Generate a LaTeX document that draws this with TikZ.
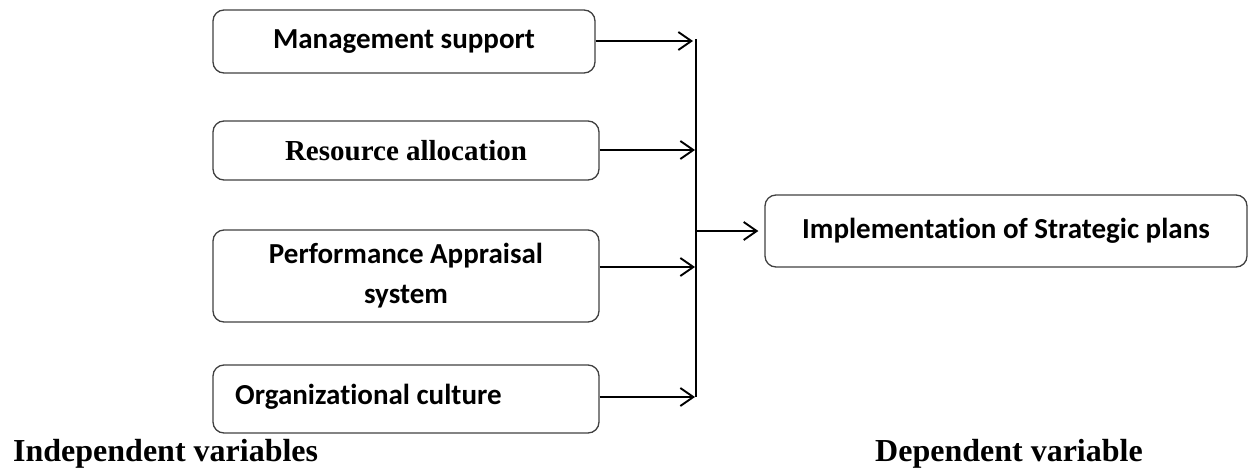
\documentclass[tikz,border=0pt]{standalone}
\usepackage{fontspec}
\setmainfont{Liberation Serif}
\newfontfamily\carlitofont[Ligatures={NoCommon}]{Carlito}
\usetikzlibrary{arrows.meta}
\begin{document}
\begin{tikzpicture}[x=1pt,y=-1pt,
  box/.style={draw=black!75,line width=1.3pt,rounded corners=11pt,inner sep=0pt},
  caltext/.style={font=\carlitofont\bfseries\fontsize{29}{40}\selectfont,inner sep=0pt},
  sertext/.style={font=\bfseries\fontsize{29}{34}\selectfont,inner sep=0pt},
  labtext/.style={font=\bfseries\fontsize{32}{36}\selectfont,inner sep=0pt,anchor=base west},
  arr/.style={line width=1.9pt,-{Straight Barb[length=13pt,width=18pt,line width=1.9pt]}},
  bus/.style={line width=1.9pt}]
\useasboundingbox (0,0) rectangle (1248,469);
% boxes
\node[box,minimum width=382pt,minimum height=63pt,caltext] (b1) at (404,41.5) {Management support};
\node[box,minimum width=386pt,minimum height=59pt,sertext] (b2) at (406,150.5) {Resource allocation};
\node[box,minimum width=386pt,minimum height=92pt,caltext,align=center] (b3) at (406,276) {Performance Appraisal\\system};
\node[box,minimum width=386pt,minimum height=68pt] (b4) at (406,399) {};
\node[caltext,anchor=west] (t4) at (235,397) {Organizational culture};
\node[box,minimum width=482pt,minimum height=72pt,caltext] (b5) at (1006,231) {Implementation of Strategic plans};
% bus coordinates
\coordinate (bt) at (696,39);
\coordinate (bb) at (696,397);
\coordinate (e1) at (693,41);
\coordinate (e2) at (695,150);
\coordinate (e3) at (695,267);
\coordinate (e4) at (695,397);
\coordinate (bo) at (696,231);
\draw[bus] (bt) -- (bb);
\draw[arr] (b1.east |- e1) -- (e1);
\draw[arr] (b2.east |- e2) -- (e2);
\draw[arr] (b3.east |- e3) -- (e3);
\draw[arr] (b4.east |- e4) -- (e4);
\draw[arr,shorten >=6pt] (bo) -- (b5.west |- bo);
% labels
\node[labtext] (li) at (13,461) {Independent variables};
\node[labtext] (ld) at (875,461) {Dependent variable};
\end{tikzpicture}
\end{document}
